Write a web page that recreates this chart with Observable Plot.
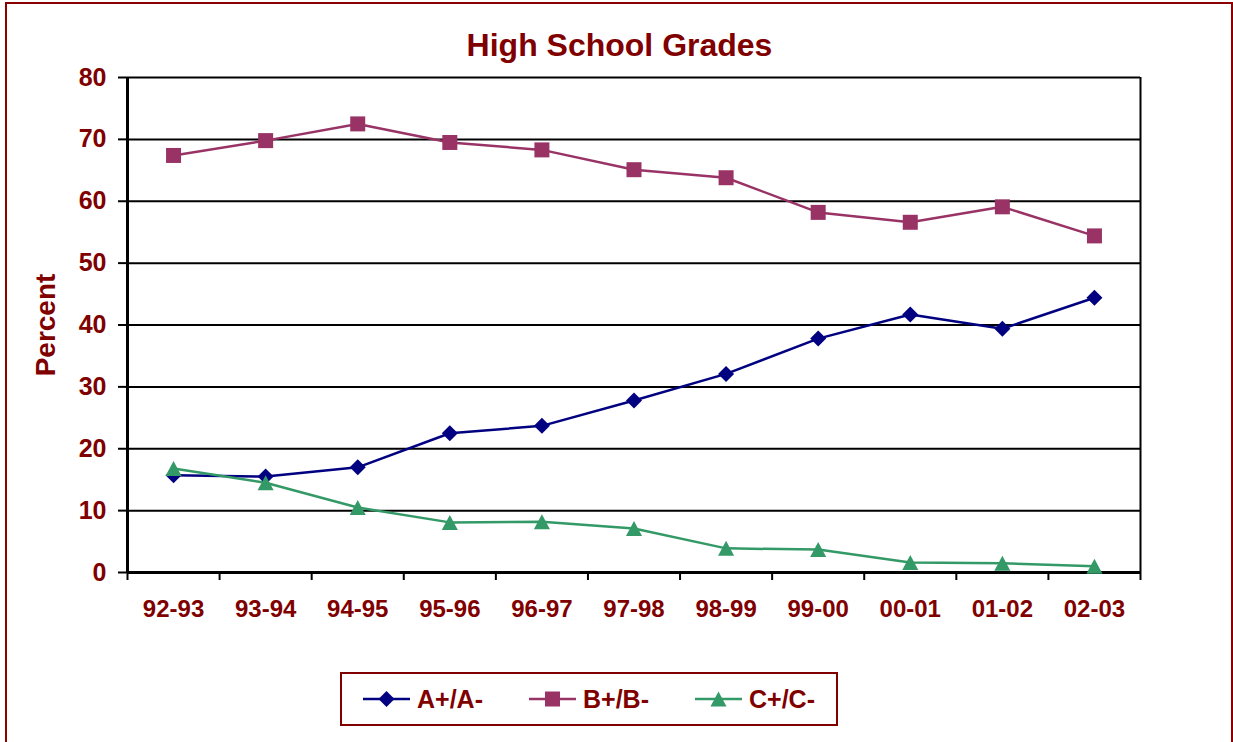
<!DOCTYPE html>
<html>
<head>
<meta charset="utf-8">
<script src="https://cdn.jsdelivr.net/npm/d3@7"></script>
<script src="https://cdn.jsdelivr.net/npm/@observablehq/plot@0.6"></script>
<style>
  html, body { margin: 0; padding: 0; background: #fff; }
  #wrap { position: relative; width: 1233px; height: 742px; overflow: hidden; font-family: "Liberation Sans", Arial, sans-serif; font-weight: bold; color: #800000; }
  #border { position: absolute; left: 5px; top: 2px; width: 1228px; height: 780px; border: 2px solid #8b0000; box-sizing: border-box; pointer-events: none; z-index: 5; }
  #title { position: absolute; left: 0; width: 1239px; top: 29px; font-size: 32px; line-height: 32px; text-align: center; }
  #ylabel { position: absolute; left: -54.5px; top: 310.5px; width: 200px; height: 28px; font-size: 28px; line-height: 28px; text-align: center; transform: rotate(-90deg); transform-origin: 50% 50%; }
  #chart { position: absolute; left: 0; top: 0; }
  #legend { position: absolute; left: 340px; top: 672px; width: 498px; height: 54px; border: 2px solid #800000; box-sizing: border-box; background: #fff; }
  .item { position: absolute; top: 0; height: 50px; display: flex; align-items: center; }
  .item span { font-size: 25px; line-height: 25px; margin-left: 7px; }
</style>
</head>
<body>
<div id="wrap">
  <div id="chart"></div>
  <div id="title">High School Grades</div>
  <div id="ylabel">Percent</div>
  <div id="legend"></div>
  <div id="border"></div>
</div>
<script>
const categories = ["92-93","93-94","94-95","95-96","96-97","97-98","98-99","99-00","00-01","01-02","02-03"];
const aValues = [15.7, 15.5, 17.0, 22.5, 23.7, 27.8, 32.1, 37.8, 41.7, 39.4, 44.4];
const bValues = [67.4, 69.8, 72.5, 69.5, 68.3, 65.1, 63.8, 58.2, 56.6, 59.1, 54.4];
const cValues = [16.8, 14.5, 10.5, 8.1, 8.2, 7.1, 3.9, 3.7, 1.6, 1.5, 1.0];
const seriesNames = ["A+/A-", "B+/B-", "C+/C-"];
const seriesColors = ["#000080", "#993366", "#339966"];
const yTicks = [0, 10, 20, 30, 40, 50, 60, 70, 80];

// custom marker shapes (size = pi * r^2)
const diamond = { draw(ctx, size) { const h = Math.sqrt(size / Math.PI); ctx.moveTo(0, -h); ctx.lineTo(h, 0); ctx.lineTo(0, h); ctx.lineTo(-h, 0); ctx.closePath(); } };
const square = { draw(ctx, size) { const h = Math.sqrt(size / Math.PI); ctx.rect(-h, -h, 2 * h, 2 * h); } };
const triangle = { draw(ctx, size) { const h = Math.sqrt(size / Math.PI); ctx.moveTo(0, -h); ctx.lineTo(h * 1.07, h); ctx.lineTo(-h * 1.07, h); ctx.closePath(); } };
const symbols = [diamond, square, triangle];
const markerR = [8, 7.5, 7.5];

const allValues = [aValues, bValues, cValues];
const series = seriesNames.map((name, s) => categories.map((cat, i) => ({ i, cat, value: allValues[s][i], series: name })));
const rows = series.flat();

const H = 625;
const marks = [
  Plot.ruleY(yTicks.slice(1), { stroke: "black", strokeWidth: 2 }),
  Plot.ruleX([10.5], { stroke: "black", strokeWidth: 2 }),
  Plot.axisY({ ticks: yTicks, tickSize: 9, tickPadding: 12, stroke: "black", strokeWidth: 2, fill: "#800000", fontSize: 25, fontWeight: "bold", label: null }),
  Plot.axisX({ ticks: d3.range(categories.length + 1).map(k => k - 0.5), tickSize: 8, tickFormat: () => "", stroke: "black", strokeWidth: 2, label: null }),
  Plot.axisX({ ticks: d3.range(categories.length), tickSize: 0, tickPadding: 27, tickFormat: i => categories[i], fill: "#800000", fontSize: 24, fontWeight: "bold", label: null }),
  Plot.ruleX([-0.5], { stroke: "black", strokeWidth: 3 }),
  Plot.ruleY([0], { stroke: "black", strokeWidth: 3 })
];
series.forEach((data, s) => {
  marks.push(Plot.line(data, { x: "i", y: "value", stroke: seriesColors[s], strokeWidth: 2.5 }));
  marks.push(Plot.dot(data, { x: "i", y: "value", symbol: symbols[s], r: markerR[s], fill: seriesColors[s], stroke: "none" }));
});

const chart = Plot.plot({
  width: 1233,
  height: H,
  marginTop: 77,
  marginLeft: 127,
  marginRight: 93,
  marginBottom: H - 572,
  x: { type: "linear", domain: [-0.5, categories.length - 0.5] },
  y: { domain: [0, 80] },
  style: { background: "transparent", fontFamily: "'Liberation Sans', Arial, sans-serif", fontWeight: "bold", overflow: "visible" },
  marks
});
document.getElementById("chart").appendChild(chart);

// legend
const legend = document.getElementById("legend");
seriesNames.forEach((name, s) => {
  const item = document.createElement("div");
  item.className = "item";
  item.style.left = (21 + s * 166) + "px";
  const svg = d3.create("svg").attr("width", 47).attr("height", 20);
  svg.append("line").attr("x1", 0).attr("x2", 47).attr("y1", 10).attr("y2", 10).attr("stroke", seriesColors[s]).attr("stroke-width", 2.5);
  const p = d3.path();
  symbols[s].draw(p, Math.PI * markerR[s] * markerR[s]);
  svg.append("path").attr("transform", "translate(23.5,10)").attr("d", p.toString()).attr("fill", seriesColors[s]);
  item.appendChild(svg.node());
  const span = document.createElement("span");
  span.textContent = name;
  item.appendChild(span);
  legend.appendChild(item);
});
</script>
</body>
</html>
